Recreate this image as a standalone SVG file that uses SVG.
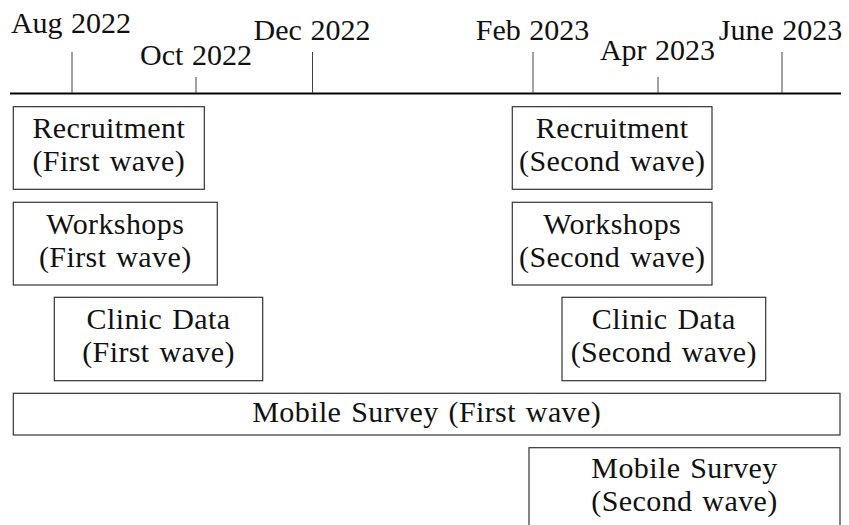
<svg xmlns="http://www.w3.org/2000/svg" width="849" height="525" viewBox="0 0 849 525">
<style>
text{font-family:"Liberation Serif","Times New Roman",serif;font-size:30px;letter-spacing:0.4px;word-spacing:2px;fill:#111;text-anchor:middle}
text.lbl{letter-spacing:0;word-spacing:1px}
.box{fill:none;stroke:#333;stroke-width:1.2}
.tick{stroke:#444;stroke-width:1}
.axis{stroke:#000;stroke-width:2}
</style>
<rect width="849" height="525" fill="#fff"/>
<g id="timeline">
<line class="axis" x1="10" y1="93.5" x2="841" y2="93.5"/>
<line class="tick" x1="72" y1="52" x2="72" y2="93"/>
<line class="tick" x1="196" y1="77" x2="196" y2="93"/>
<line class="tick" x1="312.5" y1="52" x2="312.5" y2="93"/>
<line class="tick" x1="533" y1="52" x2="533" y2="93"/>
<line class="tick" x1="658" y1="77" x2="658" y2="93"/>
<line class="tick" x1="782" y1="52" x2="782" y2="93"/>
<text class="lbl" x="71" y="33">Aug 2022</text>
<text class="lbl" x="196" y="65">Oct 2022</text>
<text class="lbl" x="312" y="40">Dec 2022</text>
<text class="lbl" x="532.5" y="40">Feb 2023</text>
<text class="lbl" x="657.5" y="60">Apr 2023</text>
<text class="lbl" x="780.5" y="40">June 2023</text>
</g>
<g id="recruit1"><rect class="box" x="13.3" y="106.7" width="191" height="82.6"/><text x="108.8" y="138">Recruitment</text><text x="108.8" y="171">(First wave)</text></g>
<g id="workshops1"><rect class="box" x="13.3" y="202.3" width="204" height="82.7"/><text x="115.3" y="233.5">Workshops</text><text x="115.3" y="266.5">(First wave)</text></g>
<g id="clinic1"><rect class="box" x="54.3" y="297.3" width="208.4" height="83.4"/><text x="158.5" y="328.5">Clinic Data</text><text x="158.5" y="361.5">(First wave)</text></g>
<g id="recruit2"><rect class="box" x="512.3" y="106.7" width="199.7" height="82.6"/><text x="612.2" y="138">Recruitment</text><text x="612.2" y="171">(Second wave)</text></g>
<g id="workshops2"><rect class="box" x="512.3" y="202.3" width="199.7" height="82.7"/><text x="612.2" y="233.5">Workshops</text><text x="612.2" y="266.5">(Second wave)</text></g>
<g id="clinic2"><rect class="box" x="562" y="297.3" width="203.7" height="83.4"/><text x="663.8" y="328.5">Clinic Data</text><text x="663.8" y="361.5">(Second wave)</text></g>
<g id="mobile1"><rect class="box" x="13.3" y="393.3" width="826.7" height="41.7"/><text x="426.7" y="421.5">Mobile Survey (First wave)</text></g>
<g id="mobile2"><rect class="box" x="529" y="447.7" width="311" height="83"/><text x="684.5" y="477.5">Mobile Survey</text><text x="684.5" y="510.5">(Second wave)</text></g>
</svg>
